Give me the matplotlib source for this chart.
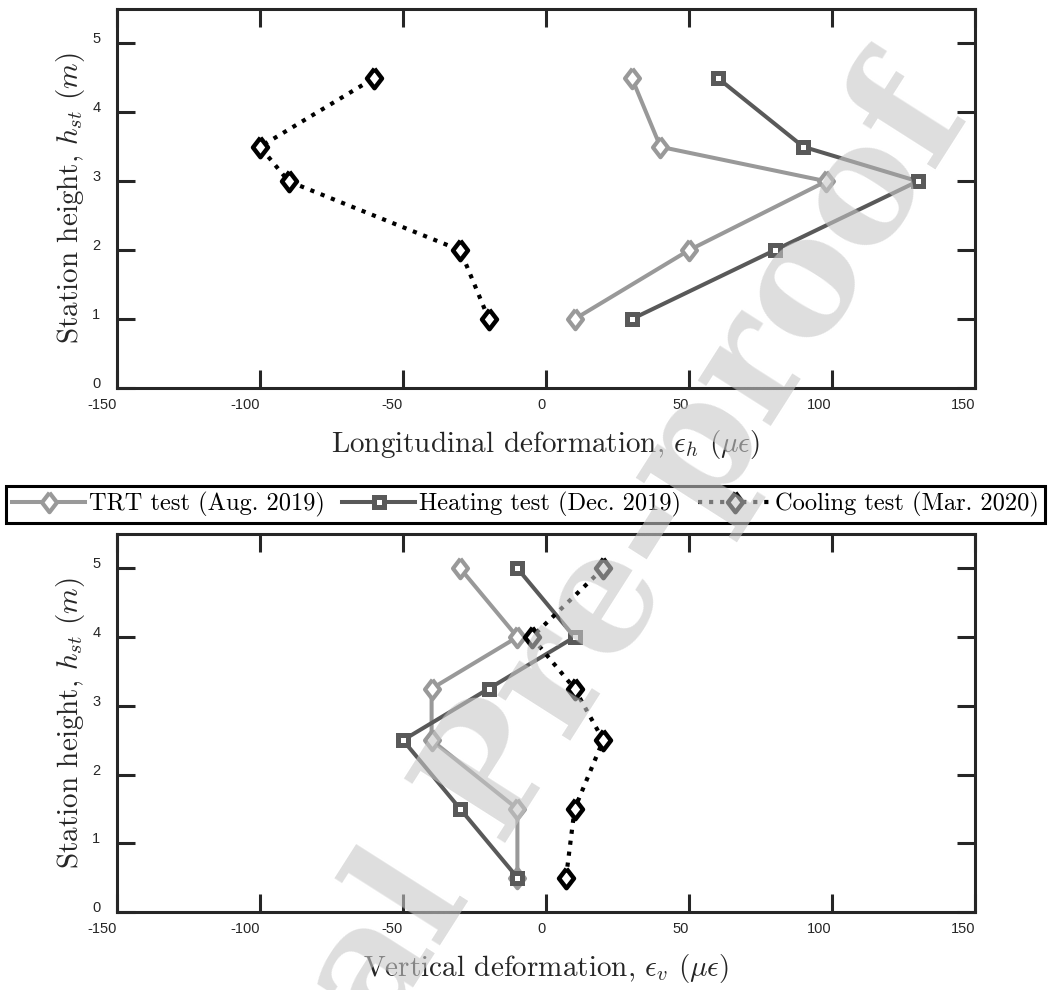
import numpy as np
import matplotlib
matplotlib.use('Agg')
import matplotlib.pyplot as plt
from matplotlib.markers import MarkerStyle

# top panel: longitudinal deformation vs station height
h_long = [1, 2, 3, 3.5, 4.5]
trt_long = [10, 50, 98, 40, 30]
heat_long = [30, 80, 130, 90, 60]
cool_long = [-20, -30, -90, -100, -60]

# bottom panel: vertical deformation vs station height
h_vert = [0.5, 1.5, 2.5, 3.25, 4, 5]
trt_vert = [-10, -10, -40, -40, -10, -30]
heat_vert = [-10, -30, -50, -20, 10, -10]
cool_vert = [7, 10, 20, 10, -5, 20]

labels = ['TRT test (Aug. 2019)', 'Heating test (Dec. 2019)', 'Cooling test (Mar. 2020)']
xticks = [-150, -100, -50, 0, 50, 100, 150]
yticks = [0, 1, 2, 3, 4, 5]

plt.rcParams['font.family'] = 'cmr10'
plt.rcParams['mathtext.fontset'] = 'cm'
plt.rcParams['axes.unicode_minus'] = False
plt.rcParams['axes.formatter.use_mathtext'] = True

dark = '#262626'
diamond = MarkerStyle([(0, 1), (0.77, 0), (0, -1), (-0.77, 0), (0, 1)], joinstyle='miter')
square = MarkerStyle('s', joinstyle='miter')

fig = plt.figure(figsize=(10.51, 9.9), dpi=100)
ax1 = fig.add_axes([117/1051, 1-388/990, 858/1051, 379/990])
ax2 = fig.add_axes([117/1051, 1-912/990, 858/1051, 378/990])


def draw(ax, h, trt, heat, cool, xlabel):
    l1, = ax.plot(trt, h, '-', color='#999999', lw=2.9, marker=diamond, ms=14,
                  mew=3.0, mfc='white', mec='#999999')
    l2, = ax.plot(heat, h, '-', color='#595959', lw=2.9, marker=square, ms=7.5,
                  mew=3.6, mfc='white', mec='#595959')
    l3, = ax.plot(cool, h, ':', color='black', lw=3.0, marker=diamond, ms=14,
                  mew=3.2, mfc='white', mec='black')
    ax.set_xlim(-150, 150)
    ax.set_ylim(0, 5.5)
    ax.set_xticks(xticks, [str(v) for v in xticks])
    ax.set_yticks(yticks, [str(v) for v in yticks])
    ax.tick_params(direction='in', length=13, width=2.2, color=dark,
                   top=True, right=True, labelsize=10.5, labelcolor=dark)
    ax.tick_params(axis='x', pad=7)
    ax.tick_params(axis='y', pad=12)
    for lbl in ax.get_xticklabels() + ax.get_yticklabels():
        lbl.set_fontfamily('Liberation Sans')
    for lbl in ax.get_xticklabels():
        lbl.set_ha('right')
    for lbl in ax.get_yticklabels():
        lbl.set_va('baseline')
    for sp in ax.spines.values():
        sp.set_linewidth(2.2)
        sp.set_color(dark)
    ax.set_xlabel(xlabel, fontsize=21, color=dark, labelpad=12)
    ax.set_ylabel(r'Station height, $h_{st}$ $(m)$', fontsize=21, color=dark, labelpad=4)
    return [l1, l2, l3]


handles = draw(ax1, h_long, trt_long, heat_long, cool_long,
               r'Longitudinal deformation, $\epsilon_h$ $(\mu\epsilon)$')
draw(ax2, h_vert, trt_vert, heat_vert, cool_vert,
     r'Vertical deformation, $\epsilon_v$ $(\mu\epsilon)$')

leg = fig.legend(handles, labels, loc='center', bbox_to_anchor=(0.5, 1-504.5/990),
                 ncol=3, fontsize=17.6, frameon=True, fancybox=False,
                 edgecolor='black', framealpha=1, borderpad=0.25, handlelength=3,
                 handletextpad=0.15, columnspacing=0.7, borderaxespad=0)
leg.get_frame().set_linewidth(2.2)

# watermark
fig.text(505/1051, 1-778/990, 'Journal Pre-proof', fontsize=118, fontweight='bold',
         family='DejaVu Serif', color='#c8c8c8', alpha=0.6, rotation=57.5,
         ha='center', va='center', rotation_mode='anchor', zorder=10)

fig.savefig('out.png', dpi=100)
